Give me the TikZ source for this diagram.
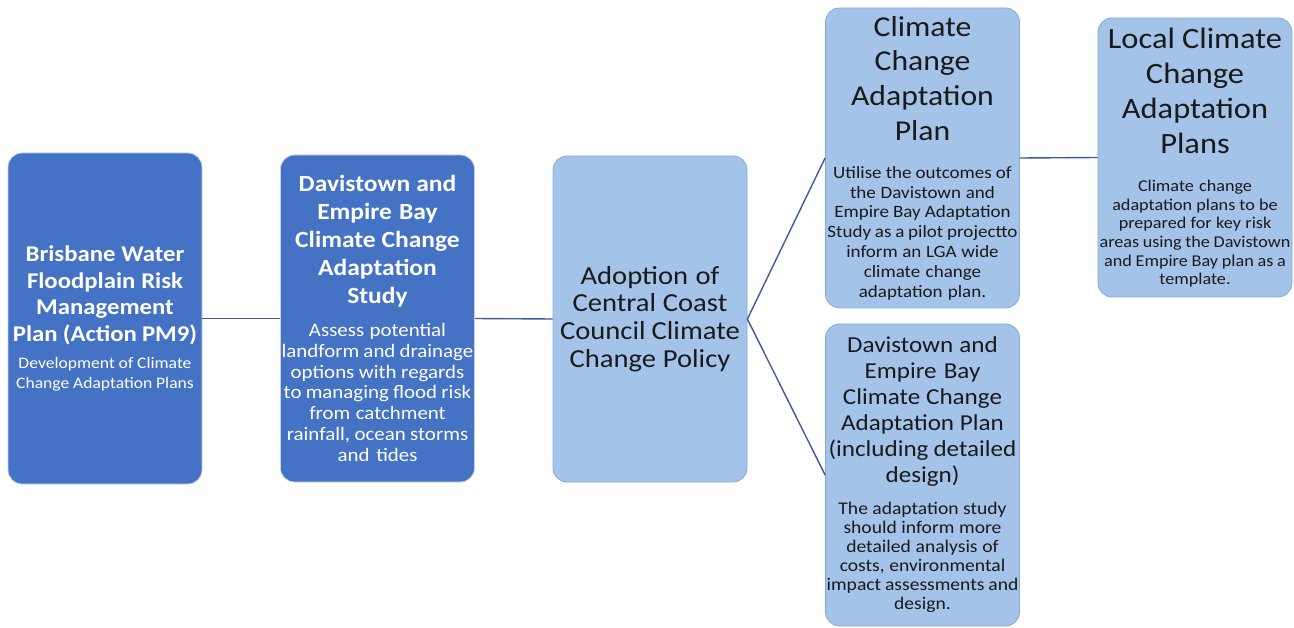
\documentclass[tikz,border=0pt]{standalone}
\usepackage{fontspec}
\setmainfont{Carlito}[FakeStretch=1.1]
\newcommand\fsz[2]{\fontsize{#1}{#2}\selectfont\spaceskip=0.2em plus 0.05em minus 0.05em\relax}
\definecolor{darkfill}{HTML}{4472C4}
\definecolor{darkedge}{HTML}{C9D1E0}
\definecolor{lightfill}{HTML}{A4C3E8}
\definecolor{lightedge}{HTML}{84AADA}
\definecolor{connblue}{HTML}{41589B}
\definecolor{textdark}{HTML}{1A1A1A}
\tikzset{
  boxbase/.style={line width=0.8pt, rounded corners=14pt, inner ysep=0pt, inner xsep=-6pt,
    align=center, minimum width=194pt, text width=206pt},
  darkbox/.style={boxbase, draw=darkedge, fill=darkfill, text=white},
  lightbox/.style={boxbase, draw=lightedge, fill=lightfill, text=textdark},
  conn/.style={draw=connblue, line width=1.4pt}
}
\begin{document}
\begin{tikzpicture}[x=1pt,y=-1pt]
\useasboundingbox (0,0) rectangle (1294,628);

\node[darkbox, minimum height=331pt] (b1) at (105,318.5) {%
\fsz{22.5}{26.5}\bfseries Brisbane Water\\
Floodplain Risk\\
Management\\
Plan (Action PM9)\\[7pt]
\fsz{16}{20}\mdseries Development of Climate\\
Change Adaptation Plans\par};

\node[darkbox, minimum height=327pt] (b2) at (377.5,318.5) {%
\fsz{23.2}{28}\bfseries Davistown and\\
Empire Bay\\
Climate Change\\
Adaptation\\
Study\\[12pt]
\fsz{19}{20.8}\mdseries Assess potential\\
landform and drainage\\
options with regards\\
to managing flood risk\\
from catchment\\
rainfall, ocean storms\\
and tides\par};

\node[lightbox, minimum height=326pt] (b3) at (650,319) {%
\fsz{26}{27.8}Adoption of\\
Central Coast\\
Council Climate\\
Change Policy\par};

\node[lightbox, minimum height=300pt] (b4) at (922.5,158) {%
\fsz{28.8}{34.8}Climate\\
Change\\
Adaptation\\
Plan\\[18pt]
\fsz{17.3}{19.8}Utilise the outcomes of\\
the Davistown and\\
Empire Bay Adaptation\\
Study as a pilot projectto\\
inform an LGA wide\\
climate change\\
adaptation plan.\par};

\node[lightbox, minimum height=279pt] (b5) at (1195,157.5) {%
\fsz{29.5}{35}Local Climate\\
Change\\
Adaptation\\
Plans\\[20pt]
\fsz{16.5}{18.6}Climate change\\
adaptation plans to be\\
prepared for key risk\\
areas using the Davistown\\
and Empire Bay plan as a\\
template.\par};

\node[lightbox, minimum height=302pt] (b6) at (922.5,475) {%
\fsz{22.8}{26}Davistown and\\
Empire Bay\\
Climate Change\\
Adaptation Plan\\
(including detailed\\
design)\\[13pt]
\fsz{17.8}{19}The adaptation study\\
should inform more\\
detailed analysis of\\
costs, environmental\\
impact assessments and\\
design.\par};

\draw[conn] (b1.east) -- (b2.west);
\draw[conn] (b2.east) -- (b3.west);
\draw[conn] (b3.east) -- (b4.west);
\draw[conn] (b3.east) -- (b6.west);
\draw[conn] (b4.east) -- (b5.west);
\end{tikzpicture}
\end{document}
